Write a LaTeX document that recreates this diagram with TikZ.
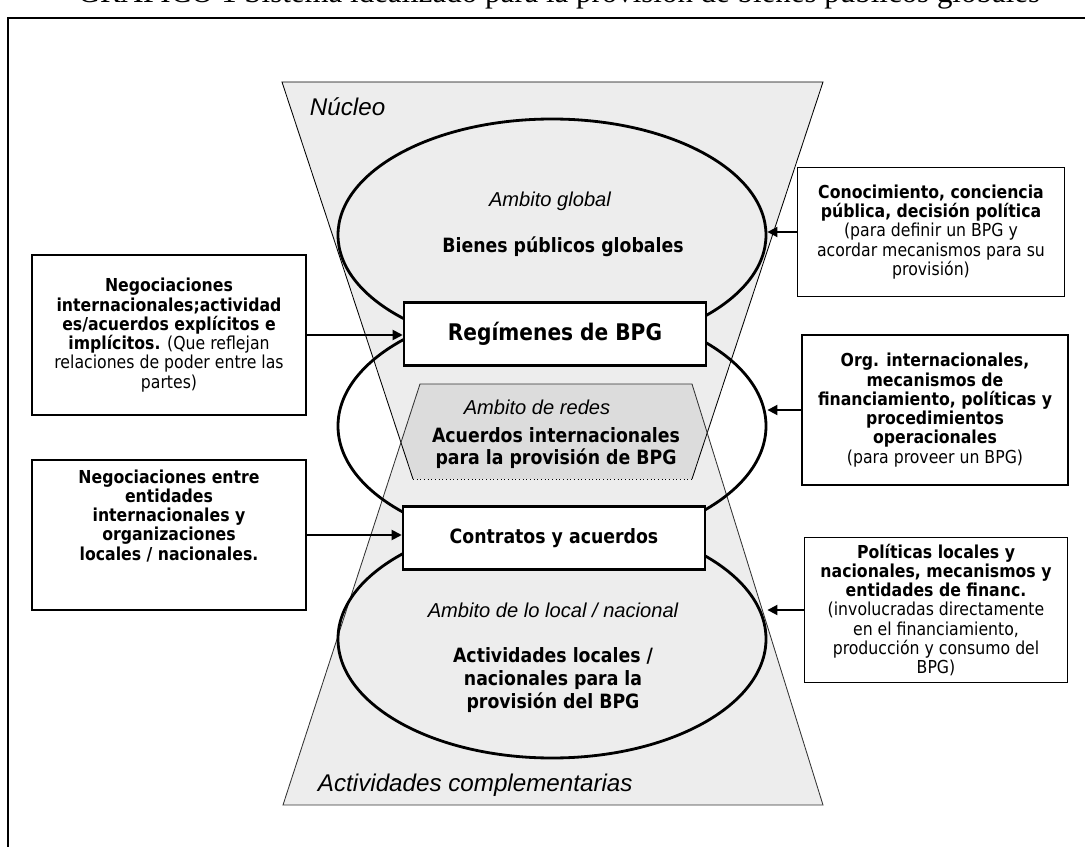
\documentclass[tikz,border=0pt]{standalone}
\usepackage{fontspec}
\setmainfont{DejaVu Sans}[FakeStretch=0.88]
\newfontfamily\arialfont{Liberation Sans}
\newfontfamily\timesfont{Liberation Serif}
\usetikzlibrary{shapes.geometric, arrows.meta, positioning}
\newlength{\unitpx}
\setlength{\unitpx}{0.025cm}

\begin{document}
\begin{tikzpicture}[x=0.025cm, y=-0.025cm,
trap/.style={fill=black, fill opacity=0.07, draw=black!80, line width=0.6pt},
ambit/.style={ellipse, draw, line width=2pt, minimum width=428\unitpx, inner sep=0pt},
core-box/.style={rectangle, draw, line width=1.8pt, fill=white, minimum width=302\unitpx,
minimum height=63\unitpx, inner sep=0pt},
side-box/.style={rectangle, draw, line width=1pt, fill=white, align=center, inner sep=0pt,
font=\fontsize{12.7}{13.7}\selectfont},
bold-text/.style={font=\bfseries\fontsize{14}{17.8}\selectfont, align=center},
tag/.style={font=\arialfont\itshape\fontsize{14.3}{17}\selectfont},
big-tag/.style={font=\arialfont\itshape\fontsize{17.2}{20}\selectfont, anchor=west},
link/.style={draw, line width=1.3pt, -{Triangle[length=2.5mm, width=2.5mm]}}
]
\clip (0,0) rectangle (1085,847);

\node[anchor=base east, font=\timesfont\fontsize{22}{24}\selectfont] (title) at (1045,3)
{GRÁFICO 1 Sistema idealizado para la provisión de bienes públicos globales};
\draw[line width=1.3pt] (8,900) -- (8,18) -- (1100,18);

% nucleo y actividades complementarias
\fill[trap, draw=none] (282,82) -- (823,82) -- (692,479) -- (413,479) -- cycle;
\draw[line width=0.6pt] (413,479) -- (282,82) -- (823,82) -- (692,479);
\draw[dotted, line width=0.6pt] (413,479) -- (692,479);
\path[trap] (420,384) -- (692,384) -- (823,805) -- (283,805) -- cycle;

% ambitos
\node[ambit, minimum height=232\unitpx] (glob) at (552,235) {};
\node[ambit, minimum height=240\unitpx] (red) at (552,426) {};
\node[ambit, minimum height=238\unitpx] (loc) at (552,639) {};

\node[core-box, font=\bfseries\fontsize{16.3}{18}\selectfont] (reg) at (555,334) {Regímenes de BPG};
\node[core-box, font=\bfseries\fontsize{14}{16}\selectfont] (con) at (554,538) {Contratos y acuerdos};

% cajas laterales
\node[side-box, minimum width=274\unitpx, minimum height=160\unitpx] (neg1) at (169,335)
{\textbf{Negociaciones}\\ \textbf{internacionales;actividad}\\ \textbf{es/acuerdos explícitos e}\\
\textbf{implícitos.} (Que reflejan\\ relaciones de poder entre las\\ partes)};
\node[side-box, minimum width=274\unitpx, minimum height=150\unitpx] (neg2) at (169,535) {};
\node[align=center, inner sep=0pt, font=\bfseries\fontsize{12.7}{13.7}\selectfont,
below=10\unitpx of neg2.north] (neg2-text)
{Negociaciones entre\\ entidades\\ internacionales y\\ organizaciones\\ locales / nacionales.};

\node[side-box, minimum width=267\unitpx, minimum height=129\unitpx] (cono) at (931,232)
{\textbf{Conocimiento, conciencia}\\ \textbf{pública, decisión política}\\ (para definir un BPG y\\
acordar mecanismos para su\\ provisión)};
\node[side-box, minimum width=266\unitpx, minimum height=150\unitpx] (org) at (935,410)
{\textbf{Org. internacionales,}\\ \textbf{mecanismos de}\\ \textbf{financiamiento, políticas y}\\
\textbf{procedimientos}\\ \textbf{operacionales}\\ (para proveer un BPG)};
\node[side-box, minimum width=263\unitpx, minimum height=145\unitpx] (pol) at (936,610)
{\textbf{Políticas locales y}\\ \textbf{nacionales, mecanismos y}\\ \textbf{entidades de financ.}\\
(involucradas directamente\\ en el financiamiento,\\ producción y consumo del\\ BPG)};

% textos de los ambitos
\node[tag] (glob-tag) at (550,201) {Ambito global};
\node[bold-text] (glob-name) at (563,247) {Bienes públicos globales};
\node[tag] (red-tag) at (537,407) {Ambito de redes};
\node[bold-text, font=\bfseries\fontsize{14}{15.6}\selectfont] (red-name) at (556,448)
{Acuerdos internacionales\\ para la provisión de BPG};
\node[tag] (loc-tag) at (553,610) {Ambito de lo local / nacional};
\node[bold-text, font=\bfseries\fontsize{14}{16.4}\selectfont] (loc-name) at (553,680)
{Actividades locales /\\ nacionales para la\\ provisión del BPG};
\node[big-tag] (core-tag) at (305,107) {Núcleo};
\node[big-tag] (extra-tag) at (313,785) {Actividades complementarias};

% flechas
\path[link] (neg1.east) -- (neg1.east -| reg.west);
\path[link] (neg2.east) -- (neg2.east -| con.west);
\path[link] (cono.west) -- (cono.west -| glob.east);
\path[link] (org.west) -- (org.west -| red.east);
\path[link] (pol.west) -- (pol.west -| loc.east);

\end{tikzpicture}
\end{document}
